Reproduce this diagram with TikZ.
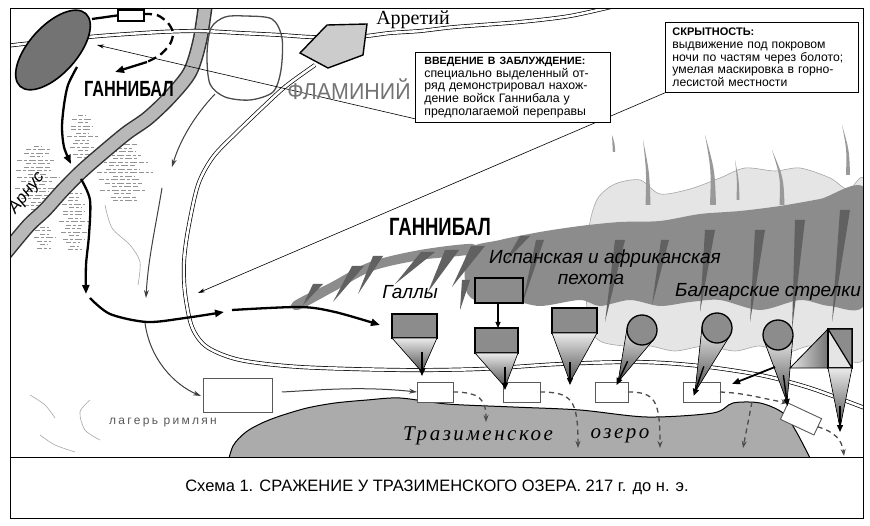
\documentclass[tikz,border=0pt]{standalone}
\usepackage{fontspec}
\setmainfont{Liberation Sans}
\newfontfamily\serifcyr{Liberation Serif}
\newfontfamily\condfont[FakeStretch=0.74]{Liberation Sans}
\newfontfamily\flamfont[FakeStretch=0.93]{Liberation Sans}
\newfontfamily\campfont[LetterSpace=19]{Liberation Sans}
\newfontfamily\lakefont[LetterSpace=12]{Liberation Serif}
\usetikzlibrary{arrows.meta,calc}
\tikzset{
  road/.style={draw=black, line width=0.7pt, double=white, double distance=2.6pt},
  route/.style={draw=black, line width=2.3pt, -{Triangle[length=9pt,width=7pt]}},
  routeplain/.style={draw=black, line width=2.3pt},
  thinarrow/.style={draw=black!75, line width=1pt, -{Stealth[length=8pt,width=5pt]}},
  pointer/.style={draw=black, line width=0.6pt},
  unitbox/.style={draw=black, line width=1.3pt, fill=black!45, inner sep=0pt, outer sep=0pt, anchor=north west},
  funnel/.style={draw=black, line width=0.6pt, top color=black!8, bottom color=black!70},
  tiparrow/.style={draw=black, line width=1.4pt, -{Triangle[length=7pt,width=6pt]}},
  romanbox/.style={draw=black!65, line width=0.9pt, fill=white, inner sep=0pt, outer sep=0pt},
  retreat/.style={draw=black!70, line width=1.3pt, dash pattern=on 5pt off 4pt, -{Stealth[length=7pt,width=5pt]}},
  note/.style={draw=black, line width=0.8pt, fill=white, anchor=north west, align=left, inner ysep=3pt},
  forest/.style={draw=black!42, line width=1pt, dash pattern=on 5pt off 2pt on 3pt off 2pt on 7pt off 2pt},
  streak/.style={fill=black!62},
  faint/.style={draw=black!35, line width=0.6pt},
  label/.style={font=\itshape\fontsize{19}{19}\selectfont, inner sep=0pt},
}
\begin{document}
\begin{tikzpicture}[x=1pt,y=-1pt]
\useasboundingbox (0,0) rectangle (870,526);
\fill[white] (0,0) rectangle (870,526);

\begin{scope}
\clip (10,9) rectangle (863,457);

% forest hatching on the left
\foreach \cx/\cy/\hw/\n/\m in {38/178/24/9/18, 83/137/16/6/12, 125/173/30/8/16, 75/222/16/8/16, 45/238/12/3/6}{
  \foreach \j in {0,...,\m}{
    \pgfmathsetmacro\ii{\j-\n}
    \pgfmathsetmacro\f{sqrt(1-(\ii*\ii)/((\n+1)*(\n+1)))*(0.7+0.3*sin(137*\ii+\cx))}
    \pgfmathsetmacro\yy{\cy+3.5*\ii}
    \pgfmathsetmacro\xa{\cx-\hw*\f}
    \pgfmathsetmacro\xb{\cx+\hw*\f*(0.8+0.2*cos(91*\ii))}
    \draw[forest] (\xa,\yy) -- (\xb,\yy);
  }
}
% faint contours
\draw[faint] plot[smooth] coordinates {(105,205) (112,228) (130,245) (140,262) (138,285)};
\draw[faint] plot[smooth] coordinates {(30,395) (45,405) (55,418)};
\draw[faint] plot[smooth] coordinates {(90,400) (80,412) (85,430) (100,440)};
\draw[faint] plot[smooth] coordinates {(40,435) (55,445) (75,452)};

% mountains: pale cloud zone
\filldraw[fill=black!10, draw=black!35, line width=0.6pt] plot[smooth cycle] coordinates {
 (586,260) (590,222) (598,198) (615,184) (640,180) (660,194) (690,189) (720,178) (745,168) (775,171)
 (800,168) (830,178) (848,190) (866,186) (866,352) (835,353) (810,346) (785,353) (760,346)
 (735,351) (705,346) (675,351) (650,346) (625,346) (600,341) (588,322)};
% dark ridge band
\fill[black!45] plot[smooth cycle] coordinates {
 (468,250) (500,240) (540,232) (580,226) (620,222) (660,221) (700,214) (740,211) (780,206)
 (820,199) (866,190) (866,302) (830,306) (800,300) (760,310) (720,300) (690,302) (660,306)
 (630,300) (600,306) (580,300) (540,306) (510,300) (480,302) (466,290)};
\fill[black!45] plot[smooth cycle] coordinates {(293,302) (330,283) (370,262) (420,250) (472,244) (472,254) (420,260) (372,271) (333,292) (298,310)};
% streaks
\foreach \bx/\by/\tx/\ty/\w in {303/305/318/284/5, 333/302/358/266/6, 358/294/378/256/5, 395/284/428/252/7,
  428/292/452/250/7, 452/287/478/246/7, 460/310/466/280/4, 505/262/525/236/5, 522/305/540/240/4,
  605/322/620/240/5, 652/305/665/240/4, 700/312/710/230/5, 750/322/760/230/5, 792/330/800/220/5, 832/322/845/210/5}{
  \fill[streak] (\tx-\w,\ty) -- (\bx,\by) -- (\tx+\w,\ty) -- cycle;
}
\foreach \bx/\by/\tx/\ty/\w in {648/205/643/140/2.5, 713/205/705/135/3, 738/200/735/160/1.5, 782/205/772/150/2.5,
  848/175/842/125/2, 614/152/612/135/1.2}{
  \fill[black!40] (\bx-\w,\by) .. controls (\bx-\w*0.6,\by*0.5+\ty*0.5) .. (\tx,\ty) .. controls (\bx+\w*0.6,\by*0.5+\ty*0.5) .. (\bx+\w,\by) -- cycle;
}

% lake
\filldraw[fill=black!33, draw=black, line width=1pt] plot[smooth] coordinates {
 (226,470) (233,446) (246,432) (262,423) (280,416) (307,408) (335,403) (367,400) (400,398)
 (447,404) (513,407) (580,410) (647,417) (713,413) (733,403) (760,403) (783,413) (797,433) (816,470)} -- cycle;

% river Arnus
\draw[line width=15pt, black!80] plot[smooth] coordinates {(206,0) (200,40) (190,72) (170,97) (148,118) (128,132) (112,145) (83,170) (63,190) (45,210) (28,226) (3,256)};
\draw[line width=12pt, black!28] plot[smooth] coordinates {(206,0) (200,40) (190,72) (170,97) (148,118) (128,132) (112,145) (83,170) (63,190) (45,210) (28,226) (3,256)};

% roads
\draw[road] plot[smooth] coordinates {(5,46) (50,41) (100,36) (160,32) (200,31) (240,33) (280,35) (310,37) (340,37) (366,36) (390,33) (420,31) (455,27) (520,22) (570,16) (615,6)};
\draw[road] plot[smooth] coordinates {(315,65) (286,86) (262,108) (236,133) (213,157) (198,185) (188,230) (184,262) (185,293) (192,327) (207,347) (240,360) (300,367) (400,370) (480,369) (560,364) (640,362) (700,366) (760,375) (810,388) (870,410)};
\end{scope}

% Flaminius camp and column
\draw[black!70, line width=1.3pt] plot[smooth cycle] coordinates {(245,16) (272,19) (282,38) (281,70) (273,92) (250,100) (225,97) (210,84) (207,55) (211,28) (225,17)};
\draw[fill=black!20, line width=1.4pt] (327,25) -- (367,24) -- (363,55) -- (328,68) -- (300,53) -- cycle;

% Hannibal's camp
\draw[fill=black!55, line width=1.6pt, rotate around={48:(53,50)}] (53,50) ellipse [x radius=49, y radius=24];
\node[draw=black, line width=2pt, fill=white, minimum width=26pt, minimum height=11pt, inner sep=0pt, anchor=north west] (detach) at (117,9) {};
\draw[routeplain] (92,19) -- (detach.west);
\draw[routeplain, dash pattern=on 9pt off 5pt] plot[smooth] coordinates {(143,14) (157,15) (168,23) (173,33) (170,44) (160,55) (147,62)};
\coordinate (detachTip) at (115,72);
\draw[route] (147,62) -- (detachTip);

% deception and stealth pointers
\coordinate (deceptTip) at (97,45);
\coordinate (stealthTip) at (198,293);
\node[note, minimum width=193pt, minimum height=70pt, text width=179pt, inner xsep=7pt, font=\fontsize{12.2}{12.6}\selectfont] (box2) at (665,22)
 {{\fontsize{11}{12.6}\selectfont\bfseries СКРЫТНОСТЬ:}\\выдвижение под покровом\\ночи по частям через болото;\\умелая маскировка в горно-\\лесистой местности};
\draw[pointer, -{Stealth[length=7pt,width=4pt]}] (box2.south west) -- (stealthTip);
\node[note, minimum width=195pt, minimum height=70pt, text width=177pt, inner xsep=9pt, font=\fontsize{12.3}{12.6}\selectfont] (box1) at (415,52)
 {\mbox{\fontsize{10.6}{12.6}\selectfont\bfseries ВВЕДЕНИЕ В ЗАБЛУЖДЕНИЕ:}\\специально выделенный от-\\ряд демонстрировал нахож-\\дение войск Ганнибала у\\предполагаемой переправы};
\draw[pointer, -{Stealth[length=7pt,width=4pt]}] ($(box1.south west)+(0,-4)$) -- (deceptTip);

% Flaminius' march
\draw[thinarrow] (215,94) .. controls (195,115) and (180,140) .. (172,167);
\draw[thinarrow] (162,188) .. controls (155,230) and (148,260) .. (146,298);
\draw[thinarrow] (145,323) .. controls (150,360) and (175,385) .. (201,396);

% Hannibal's march
\draw[route] plot[smooth] coordinates {(77,67) (68,85) (64,105) (62,127) (64,147) (71,164)};
\draw[route] plot[smooth] coordinates {(81,179) (90,200) (89,235) (86,265) (86,294)};
\draw[route] plot[smooth] coordinates {(90,298) (110,314) (147,322) (185,318) (224,312)};
\draw[route] plot[smooth] coordinates {(232,310) (300,307) (335,312) (380,325)};

% Roman column
\node[romanbox, minimum width=69pt, minimum height=34pt, anchor=north west] (campA) at (203,378) {};
\node[romanbox, minimum width=36pt, minimum height=20pt, anchor=north west] (r1) at (417,382) {};
\node[romanbox, minimum width=37pt, minimum height=20pt, anchor=north west] (r2) at (503,382) {};
\node[romanbox, minimum width=33pt, minimum height=20pt, anchor=north west] (r3) at (595,382) {};
\node[romanbox, minimum width=37pt, minimum height=20pt, anchor=north west] (r4) at (683,382) {};
\node[romanbox, minimum width=37pt, minimum height=18pt, rotate=-25] (r5) at (801,419) {};
\draw[thinarrow] (campA.east) ++(10,-3) .. controls (320,390) and (360,386) .. (r1.west);

% retreat into the lake
\draw[retreat] (r1.east) .. controls (480,392) and (486,400) .. (486,422);
\draw[retreat] (r2.east) .. controls (572,392) and (578,400) .. (578,448);
\draw[retreat] (r3.east) .. controls (655,392) and (660,400) .. (660,448);
\draw[retreat] (r4.east) .. controls (745,393) and (760,398) .. (r5.north west);
\draw[retreat] (752,402) -- (743,448);
\draw[retreat] (r5.east) .. controls (835,432) and (842,440) .. (844,456);

% Gauls
\node[unitbox, minimum width=45pt, minimum height=24pt] (gauls) at (392,314) {};
\filldraw[funnel] (gauls.south west) -- (gauls.south east) -- (422,372) -- cycle;
\draw[tiparrow] (422,352) -- (422,376);
% Spanish and African infantry
\node[unitbox, minimum width=48pt, minimum height=25pt] (inf1) at (475,278) {};
\node[unitbox, minimum width=43pt, minimum height=25pt] (inf2) at (475,328) {};
\draw[draw=black, line width=1.2pt, -{Triangle[length=6pt,width=5pt]}] (498,303) -- (inf2.north -| 498,0);
\filldraw[funnel] (inf2.south west) -- (inf2.south east) -- (505,387) -- cycle;
\draw[tiparrow] (505,367) -- (505,390);
\node[unitbox, minimum width=45pt, minimum height=25pt] (inf3) at (552,308) {};
\filldraw[funnel] (inf3.south west) -- (inf3.south east) -- (570,382) -- cycle;
\draw[tiparrow] (570,362) -- (570,385);

% Balearic slingers
\node[circle, minimum size=30pt, inner sep=0pt, outer sep=0pt] (c1) at (642,330) {};
\node[circle, minimum size=30pt, inner sep=0pt, outer sep=0pt] (c2) at (717,328) {};
\node[circle, minimum size=30pt, inner sep=0pt, outer sep=0pt] (c3) at (778,335) {};
\coordinate (t1) at (618,382);
\coordinate (t2) at (695,392);
\coordinate (t3) at (787,402);
\foreach \c/\t in {c1/t1, c2/t2, c3/t3}{
  \filldraw[funnel] (tangent cs:node=\c,point={(\t)},solution=1) -- (\t) -- (tangent cs:node=\c,point={(\t)},solution=2) -- cycle;
  \draw[tiparrow] ($(\c)!0.6!(\t)$) -- ($(\c)!1.06!(\t)$);
  \draw[line width=1.3pt, fill=black!45] (\c) circle [radius=15pt];
}

% cavalry
\filldraw[draw=black, line width=0.8pt, left color=black!10, right color=black!55] (790,368) -- (828,329) -- (828,368) -- cycle;
\node[draw=black, line width=1.2pt, fill=black!10, minimum width=24pt, minimum height=39pt, inner sep=0pt, outer sep=0pt, anchor=north west] (cav) at (828,329) {};
\fill[black!45] (cav.north west) -- (cav.north east) -- (cav.south east) -- cycle;
\draw[line width=1.2pt] (cav.north west) rectangle (cav.south east) (cav.north west) -- (cav.south east);
\filldraw[funnel] (cav.south west) -- (cav.south east) -- (840,428) -- cycle;
\draw[tiparrow] (840,406) -- (840,432);
\draw[draw=black, line width=1.8pt, -{Triangle[length=8pt,width=6pt]}] (775,367) -- (732,384);

% labels
\node[font={\condfont\bfseries\fontsize{22}{22}\selectfont}, inner sep=0pt] (hanTop) at (129,89) {ГАННИБАЛ};
\node[font={\condfont\bfseries\fontsize{25}{25}\selectfont}, inner sep=0pt] (hanMain) at (440,227) {ГАННИБАЛ};
\node[font={\flamfont\fontsize{23}{23}\selectfont}, text=black!55, inner sep=0pt] (flam) at (349,89) {ФЛАМИНИЙ};
\node[font={\serifcyr\fontsize{20}{20}\selectfont}, inner sep=0pt] (arret) at (413,20) {Арретий};
\node[font={\itshape\fontsize{17}{17}\selectfont}, rotate=52, inner sep=0pt] (arnus) at (27,193) {Арнус};
\node[label] (gallsLbl) at (410,292) {Галлы};
\node[label] (infLbl) at (605,259) {Испанская и африканская};
\node[label] (infLbl2) at (591,279) {пехота};
\node[label] (balLbl) at (768,292) {Балеарские стрелки};
\node[font={\campfont\fontsize{12}{12}\selectfont}, text=black!65, inner sep=0pt] (campLbl) at (163,423) {лагерь римлян};
\node[font={\lakefont\itshape\fontsize{21}{21}\selectfont}, inner sep=0pt] (lake1) at (478,436) {Тразименское};
\node[font={\lakefont\itshape\fontsize{21}{21}\selectfont}, inner sep=0pt] (lake2) at (620,436) {озеро};

% frame and caption
\draw[line width=1pt] (10,9) rectangle (863,518);
\draw[line width=1pt] (10,457) -- (863,457);
\node[font=\fontsize{16.5}{16.5}\selectfont, inner sep=0pt] (caption) at (437,487) {Схема 1. СРАЖЕНИЕ У ТРАЗИМЕНСКОГО ОЗЕРА. 217 г. до н. э.};
\end{tikzpicture}
\end{document}
